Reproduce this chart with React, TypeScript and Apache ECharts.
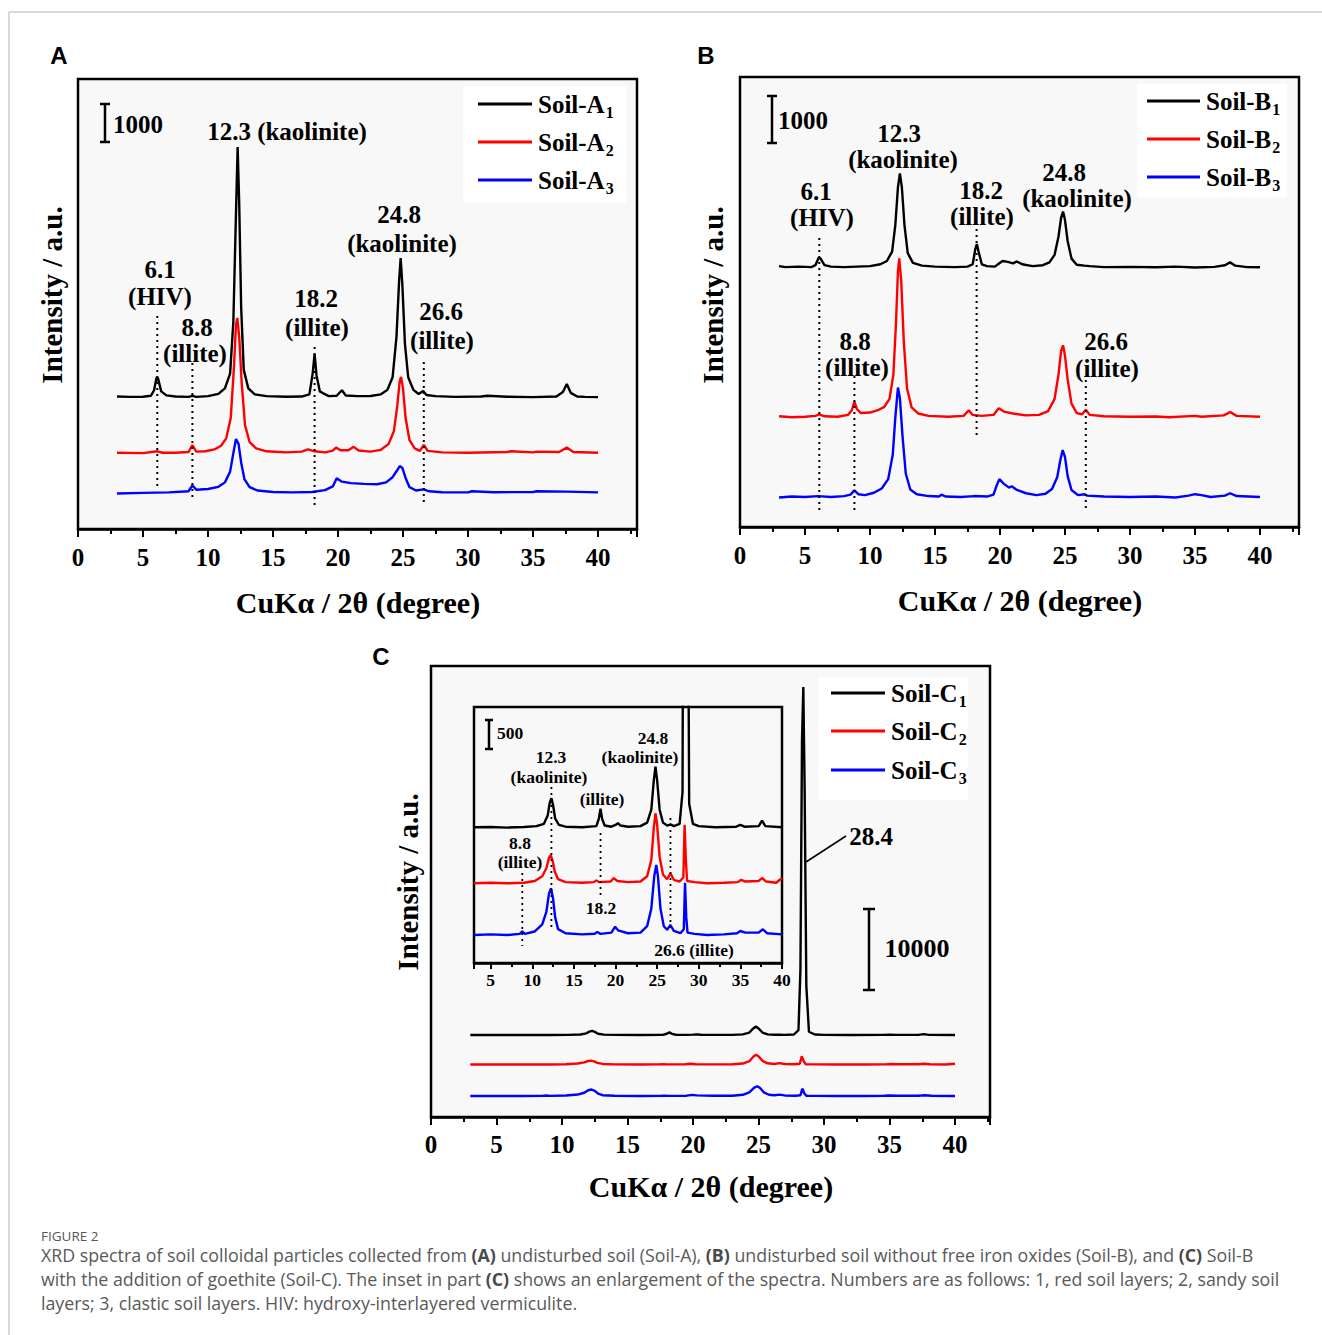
import React, { useEffect, useRef } from 'react';
import * as echarts from 'echarts';

const W = 1322;
const H = 1335;
const SERIF = '"Liberation Serif", "Times New Roman", serif';
const SANS = '"Liberation Sans", Arial, sans-serif';
const CAP = '"Open Sans", Lato, sans-serif';

// ---------- DATA: raw spectra (2θ, intensity above own baseline) ----------
const soilA1 = [[3, 10], [4, 0], [5, 5], [5.6, 30], [5.85, 180], [6.05, 530], [6.15, 510], [6.4, 150], [6.8, 40], [7.5, 10], [8.5, 0], [8.8, 30], [9.1, 0], [10, 20], [10.8, 80], [11.3, 230], [11.7, 630], [11.95, 2030], [12.15, 4930], [12.28, 6750], [12.4, 5230], [12.55, 2430], [12.75, 730], [13.1, 230], [13.6, 70], [14.5, 20], [16, 5], [17.2, 10], [17.8, 70], [18.05, 630], [18.2, 1160], [18.35, 580], [18.6, 150], [18.9, 90], [19.3, 20], [19.9, 30], [20.3, 180], [20.6, 40], [21.5, 20], [22.5, 25], [23.3, 70], [23.8, 190], [24.2, 530], [24.5, 1630], [24.7, 3130], [24.82, 3750], [24.95, 3030], [25.15, 1430], [25.4, 530], [25.8, 190], [26.2, 80], [26.55, 160], [26.8, 50], [27.5, 20], [29, 0], [31, 10], [31.5, 30], [33, 5], [35, -5], [36.8, 10], [37.3, 130], [37.6, 350], [37.9, 110], [38.4, 10], [39, 0], [40, -5]];
const soilA2 = [[3, 5], [5, -5], [6.1, 45], [6.5, 5], [7.5, 5], [8.5, 25], [8.8, 215], [9.1, 35], [9.8, 45], [10.5, 95], [11, 195], [11.4, 395], [11.75, 945], [12.0, 2345], [12.15, 3445], [12.25, 3650], [12.4, 3145], [12.6, 1845], [12.85, 745], [13.2, 295], [13.7, 125], [14.5, 45], [16, 15], [17.2, 35], [17.7, 95], [18.2, 45], [19, 15], [19.6, 65], [19.85, 145], [20.2, 75], [20.8, 75], [21.2, 165], [21.6, 65], [22.5, 35], [23.3, 85], [23.9, 245], [24.3, 595], [24.55, 1245], [24.75, 1945], [24.85, 2055], [25.0, 1745], [25.2, 945], [25.5, 345], [25.9, 125], [26.3, 55], [26.6, 215], [26.9, 55], [28, 15], [30, 5], [33, 25], [33.3, 45], [35, 15], [35.3, 35], [37, 25], [37.6, 145], [38.1, 25], [40, 5]];
const soilA3 = [[3, -25], [5, -10], [7, 5], [8.5, 35], [8.8, 195], [9.1, 75], [10, 95], [10.8, 155], [11.3, 275], [11.7, 565], [11.95, 1065], [12.15, 1445], [12.35, 1315], [12.55, 815], [12.8, 365], [13.2, 145], [13.8, 55], [15, 15], [16.5, 5], [18, 15], [19, 65], [19.6, 165], [19.9, 385], [20.3, 295], [21, 255], [22, 235], [23, 225], [23.7, 275], [24.2, 415], [24.5, 575], [24.75, 715], [24.95, 665], [25.2, 395], [25.5, 145], [26, 55], [26.6, 85], [27, 35], [28, 10], [30, 5], [30.3, 35], [32, 10], [35, 15], [35.3, 35], [37.6, 25], [40, 5]];

const soilB1 = [[3, 20], [3.5, 0], [4.5, 10], [5.5, 0], [5.8, 40], [6.05, 200], [6.2, 180], [6.5, 40], [7, 10], [8, 0], [9, 10], [10, 20], [10.8, 60], [11.3, 130], [11.7, 330], [11.95, 900], [12.15, 1700], [12.3, 1990], [12.45, 1700], [12.65, 900], [12.9, 300], [13.3, 90], [14, 30], [15, 10], [16.5, 0], [17.5, 10], [17.9, 60], [18.1, 380], [18.22, 490], [18.35, 330], [18.6, 60], [19, 20], [19.6, 10], [19.9, 70], [20.2, 130], [20.6, 110], [21.0, 80], [21.3, 120], [21.7, 60], [22.5, 20], [23.3, 40], [23.8, 100], [24.2, 260], [24.5, 650], [24.7, 1050], [24.85, 1180], [25.0, 1000], [25.2, 560], [25.5, 180], [25.9, 50], [26.5, 30], [26.9, 20], [28, 0], [30, 5], [32, -5], [33.5, 10], [35, -10], [36.5, 5], [37.3, 40], [37.7, 100], [38.1, 30], [39, 0], [40, -5]];
const soilB2 = [[3, 10], [4, -10], [5, 0], [5.8, 20], [6.1, 50], [6.5, 10], [7.5, 0], [8.3, 40], [8.6, 140], [8.8, 320], [9.0, 160], [9.3, 80], [10, 90], [10.6, 140], [11.1, 210], [11.5, 380], [11.8, 900], [12.0, 2000], [12.15, 3100], [12.25, 3370], [12.4, 2900], [12.6, 1600], [12.85, 600], [13.2, 200], [13.7, 70], [14.5, 20], [16, 0], [17.2, 20], [17.6, 140], [17.9, 40], [18.6, 20], [19.5, 40], [19.9, 180], [20.3, 110], [21, 70], [22, 30], [23, 40], [23.7, 120], [24.2, 380], [24.5, 900], [24.7, 1400], [24.85, 1520], [25.0, 1300], [25.2, 800], [25.5, 280], [25.9, 80], [26.3, 50], [26.6, 150], [26.9, 40], [28, 10], [30, 0], [32, 5], [33, -10], [35, 20], [35.5, 0], [37.2, 30], [37.7, 100], [38.2, 20], [40, 0]];
const soilB3 = [[3, -10], [4, 10], [5, 0], [6, 20], [7, 0], [8, 20], [8.5, 50], [8.8, 140], [9.1, 60], [9.6, 40], [10.3, 90], [10.9, 180], [11.4, 380], [11.75, 900], [11.95, 1700], [12.15, 2330], [12.3, 2100], [12.5, 1300], [12.75, 500], [13.1, 160], [13.6, 60], [14.5, 20], [15.3, 10], [15.5, 50], [15.8, 10], [17, 0], [18, 20], [19, 10], [19.5, 50], [19.75, 250], [19.95, 380], [20.3, 280], [20.7, 200], [20.9, 230], [21.3, 150], [22, 80], [22.8, 40], [23.5, 70], [24, 170], [24.4, 420], [24.65, 800], [24.82, 1000], [25.0, 850], [25.2, 450], [25.5, 150], [26, 40], [26.5, 60], [26.7, 30], [28, 10], [30, 0], [32, 10], [33.5, -10], [34.5, 30], [35, 60], [35.5, 40], [36.2, 0], [37.3, 30], [37.7, 80], [38.2, 20], [40, 0]];

const soilC1 = [[3, 0], [5, 5], [7, -5], [9, 5], [10.5, 20], [11.4, 60], [11.85, 200], [12.1, 420], [12.3, 495], [12.5, 380], [12.75, 150], [13.2, 40], [14, 10], [16, 0], [17.7, 20], [18.0, 150], [18.2, 316], [18.4, 140], [18.7, 30], [19.5, 10], [20.0, 40], [20.3, 70], [20.6, 30], [21.5, 10], [23, 20], [23.8, 80], [24.3, 300], [24.6, 800], [24.8, 1034], [25.0, 800], [25.3, 300], [25.7, 80], [26.2, 30], [26.6, 50], [27, 20], [27.7, 60], [28.05, 600], [28.2, 8000], [28.32, 36000], [28.42, 42440], [28.52, 30000], [28.65, 6000], [28.85, 400], [29.3, 60], [30, 20], [32, 0], [34.5, 10], [35, 40], [35.5, 10], [37.2, 20], [37.6, 114], [38, 20], [40, 0]];
const soilC2 = [[3, 0], [5, 10], [7, 0], [9, 10], [10.3, 40], [11.2, 120], [11.7, 260], [12.0, 430], [12.2, 483], [12.45, 380], [12.7, 200], [13.1, 70], [14, 20], [16, 10], [17.4, 20], [17.7, 50], [18.0, 20], [19.4, 30], [19.8, 90], [20.2, 40], [21.5, 20], [23, 30], [23.8, 120], [24.3, 400], [24.6, 950], [24.8, 1195], [25.0, 1000], [25.3, 450], [25.7, 150], [26.2, 70], [26.6, 171], [27.0, 60], [27.7, 30], [28.15, 100], [28.3, 1000], [28.45, 400], [28.6, 40], [29.5, 20], [31, 0], [33, 10], [34.7, 20], [35.1, 60], [35.6, 30], [37.2, 40], [37.6, 90], [38.1, 30], [39.3, 10], [40, 90]];
const soilC3 = [[3, 0], [5, 10], [7, 0], [8.5, 20], [8.8, 60], [9.1, 20], [10.3, 60], [11.2, 180], [11.7, 400], [12.0, 700], [12.25, 797], [12.5, 620], [12.75, 300], [13.1, 100], [14, 30], [16, 10], [17.5, 20], [17.8, 50], [18.2, 20], [19.5, 40], [19.95, 141], [20.3, 80], [21.5, 30], [23, 40], [23.8, 150], [24.3, 450], [24.65, 1000], [24.9, 1194], [25.1, 1000], [25.4, 450], [25.8, 150], [26.2, 90], [26.6, 170], [27.0, 70], [27.8, 30], [28.2, 100], [28.35, 892], [28.5, 300], [28.65, 40], [29.5, 20], [31, 0], [33, 10], [34.6, 30], [35.0, 68], [35.6, 40], [37.2, 40], [37.7, 97], [38.2, 30], [40, 10]];

// vertical stacking offsets of the spectra (intensity units)
const offsetsA = [3570, 2055, 985];
const offsetsB = [5530, 2345, 638];
const offsetsC = [10000, 6400, 2560];
const offsetsInset = [2316, 1360, 478];

// dotted guide lines: [2θ, top, bottom]
const guidesA = [[6.1, 5757, 1162], [8.8, 4486, 784], [18.2, 4919, 649], [26.6, 4514, 730]];
const guidesB = [[6.1, 6149, 285], [8.8, 3213, 285], [18.2, 6340, 1915], [26.6, 3128, 362]];
const guidesInset = [[12.3, 3003, 563], [18.2, 2218, 1126], [8.8, 1536, 290], [26.6, 2474, 529]];

const namesA = ['Soil-A1', 'Soil-A2', 'Soil-A3'];
const namesB = ['Soil-B1', 'Soil-B2', 'Soil-B3'];
const namesC = ['Soil-C1', 'Soil-C2', 'Soil-C3'];
const colors = ['#000000', '#ff0000', '#0000ff'];

// axis ranges
const xRangeA = [0, 43];
const xRangeB = [0, 43];
const xRangeC = [0, 42.67];
const xRangeInset = [3, 40];
const yMaxA = 12162;
const yMaxB = 9574;
const yMaxC = 55000;
const yMaxInset = 4369;

function buildOption() {
  const grids = [
    { left: 78, top: 79, width: 559, height: 450 },
    { left: 740, top: 77, width: 559, height: 450 },
    { left: 431, top: 666, width: 559, height: 451 },
    { left: 474, top: 707, width: 308, height: 256 },
  ].map((g) => ({ ...g, show: true, backgroundColor: '#f8f8f8', borderColor: '#000', borderWidth: 2.5, containLabel: false }));

  const xAxis = (gridIndex: number, range: number[], fontSize: number, margin: number, tickLen: number, minorLen: number, useInterval: boolean) => ({
    type: 'value',
    gridIndex,
    min: range[0],
    max: range[1],
    ...(useInterval ? { interval: 5 } : { splitNumber: 7 }),
    axisLine: { show: true, onZero: false, lineStyle: { color: '#000', width: 2.5 } },
    axisTick: { show: true, inside: false, length: tickLen, lineStyle: { color: '#000', width: 2 } },
    minorTick: { show: true, splitNumber: 2, length: minorLen, lineStyle: { color: '#000', width: 2 } },
    axisLabel: {
      margin,
      fontSize,
      fontWeight: 'bold',
      fontFamily: SERIF,
      color: '#000',
      formatter: (v: number) => (Math.abs(v % 5) < 1e-6 ? String(v) : ''),
    },
    splitLine: { show: false },
    minorSplitLine: { show: false },
  });

  const yAxis = (gridIndex: number, max: number) => ({
    type: 'value', gridIndex, min: 0, max, show: false, splitLine: { show: false },
  });

  const series: any[] = [];
  const addSpectra = (axis: number, names: string[], raws: number[][][], offs: number[]) => {
    raws.forEach((raw, i) => {
      series.push({
        type: 'line',
        name: names[i] + (axis === 3 ? ' (inset)' : ''),
        xAxisIndex: axis,
        yAxisIndex: axis,
        data: raw.map(([x, y]) => [x, y + offs[i]]),
        symbol: 'none',
        clip: true,
        silent: true,
        z: 3,
        lineStyle: { color: colors[i], width: 2.4 },
      });
    });
  };
  addSpectra(0, namesA, [soilA1, soilA2, soilA3], offsetsA);
  addSpectra(1, namesB, [soilB1, soilB2, soilB3], offsetsB);
  addSpectra(2, namesC, [soilC1, soilC2, soilC3], offsetsC);
  addSpectra(3, namesC, [soilC1, soilC2, soilC3], offsetsInset);

  const addGuides = (axis: number, guides: number[][], width: number) => {
    guides.forEach(([x, top, bottom]) => {
      series.push({
        type: 'line',
        xAxisIndex: axis,
        yAxisIndex: axis,
        data: [[x, top], [x, bottom]],
        symbol: 'none',
        silent: true,
        z: 4,
        lineStyle: { color: '#000', width, type: [2, 4] },
      });
    });
  };
  addGuides(0, guidesA, 2);
  addGuides(1, guidesB, 2);
  addGuides(3, guidesInset, 1.8);

  // ---------- graphic annotations ----------
  const g: any[] = [];
  const txt = (x: number, y: number, text: string, size: number, extra: any = {}) =>
    g.push({
      type: 'text', x, y, z: 100, silent: true,
      style: { text, fontSize: size, fontWeight: 'bold', fontFamily: SERIF, fill: '#000', align: 'center', verticalAlign: 'middle', ...extra },
    });
  const seg = (x1: number, y1: number, x2: number, y2: number, w = 2, color = '#000') =>
    g.push({ type: 'line', z: 100, silent: true, shape: { x1, y1, x2, y2 }, style: { stroke: color, lineWidth: w } });
  const scaleBar = (x: number, y1: number, y2: number, cap: number) => {
    seg(x, y1, x, y2, 2.5);
    seg(x - cap / 2, y1, x + cap / 2, y1, 2.5);
    seg(x - cap / 2, y2, x + cap / 2, y2, 2.5);
  };
  const legend = (x: number, y: number, w: number, h: number, lx1: number, lx2: number, tx: number, ys: number[], prefix: string, size: number) => {
    g.push({ type: 'rect', z: 90, silent: true, shape: { x, y, width: w, height: h }, style: { fill: '#ffffff' } });
    ys.forEach((yy, i) => {
      seg(lx1, yy, lx2, yy, 3, colors[i]);
      txt(tx, yy, `${prefix}{s|${i + 1}}`, size, {
        align: 'left',
        rich: { s: { fontSize: 16, fontWeight: 'bold', fontFamily: SERIF, fill: '#000', padding: [16, 0, 0, 1] } },
      });
    });
  };

  // frame of the figure
  seg(9, 12, W, 12, 1.5, '#cccccc');
  seg(9, 12, 9, H, 1.5, '#cccccc');

  // panel letters
  txt(59, 55, 'A', 24, { fontFamily: SANS });
  txt(706, 55, 'B', 24, { fontFamily: SANS });
  txt(381, 656, 'C', 24, { fontFamily: SANS });

  // axis titles
  const xTitle = 'CuKα / 2θ (degree)';
  const yTitle = 'Intensity / a.u.';
  txt(358, 602, xTitle, 30);
  txt(1020, 600, xTitle, 30);
  txt(711, 1186, xTitle, 30);
  const yT = (x: number, y: number) =>
    g.push({ type: 'text', x, y, rotation: Math.PI / 2, z: 100, silent: true, style: { text: yTitle, fontSize: 29, fontWeight: 'bold', fontFamily: SERIF, fill: '#000', align: 'center', verticalAlign: 'middle' } });
  yT(52, 295);
  yT(713, 295);
  yT(408, 882);

  const F = 25;
  // panel A annotations
  scaleBar(105, 104, 142, 10);
  txt(113, 124, '1000', F, { align: 'left' });
  txt(287, 131, '12.3 (kaolinite)', F);
  txt(160, 269, '6.1', F);
  txt(160, 296, '(HIV)', F);
  txt(197, 327, '8.8', F);
  txt(195, 353, '(illite)', F);
  txt(316, 298, '18.2', F);
  txt(317, 327, '(illite)', F);
  txt(399, 214, '24.8', F);
  txt(402, 243, '(kaolinite)', F);
  txt(441, 311, '26.6', F);
  txt(442, 340, '(illite)', F);
  legend(463, 86, 163, 117, 478, 532, 538, [104, 142, 180], 'Soil-A', F);

  // panel B annotations
  scaleBar(772, 96, 143, 10);
  txt(778, 120, '1000', F, { align: 'left' });
  txt(899, 133, '12.3', F);
  txt(903, 159, '(kaolinite)', F);
  txt(816, 191, '6.1', F);
  txt(822, 217, '(HIV)', F);
  txt(981, 190, '18.2', F);
  txt(982, 216, '(illite)', F);
  txt(1064, 172, '24.8', F);
  txt(1077, 198, '(kaolinite)', F);
  txt(855, 341, '8.8', F);
  txt(857, 367, '(illite)', F);
  txt(1106, 341, '26.6', F);
  txt(1107, 368, '(illite)', F);
  legend(1137, 84, 150, 113, 1147, 1200, 1206, [101, 139, 177], 'Soil-B', F);

  // panel C annotations
  scaleBar(869, 909, 990, 12);
  txt(917, 948, '10000', 26);
  seg(806, 862, 846, 836, 1.5);
  txt(871, 836, '28.4', 25);
  legend(818, 677, 150, 123, 831, 885, 891, [693, 731, 770], 'Soil-C', F);

  // inset annotations
  const f = 17.5;
  scaleBar(489, 720, 749, 8);
  txt(497, 733, '500', f, { align: 'left' });
  txt(551, 757, '12.3', f);
  txt(549, 777, '(kaolinite)', f);
  txt(653, 738, '24.8', f);
  txt(640, 757, '(kaolinite)', f);
  txt(602, 799, '(illite)', f);
  txt(520, 843, '8.8', f);
  txt(520, 862, '(illite)', f);
  txt(601, 908, '18.2', f);
  txt(694, 950, '26.6 (illite)', f);

  // caption
  const capStyle = (text: string) => ({
    text, fontSize: 17.8, fontFamily: CAP, fill: '#595959', align: 'left', verticalAlign: 'middle',
    rich: { b: { fontSize: 17.8, fontFamily: CAP, fontWeight: 'bold', fill: '#4a4a4a' } },
  });
  g.push({ type: 'text', x: 41, y: 1236, z: 100, silent: true, style: { text: 'FIGURE 2', fontSize: 13.5, fontFamily: CAP, fill: '#555555', align: 'left', verticalAlign: 'middle' } });
  g.push({ type: 'text', x: 41, y: 1255, z: 100, silent: true, style: capStyle('XRD spectra of soil colloidal particles collected from {b|(A)} undisturbed soil (Soil-A), {b|(B)} undisturbed soil without free iron oxides (Soil-B), and {b|(C)} Soil-B') });
  g.push({ type: 'text', x: 41, y: 1279, z: 100, silent: true, style: capStyle('with the addition of goethite (Soil-C). The inset in part {b|(C)} shows an enlargement of the spectra. Numbers are as follows: 1, red soil layers; 2, sandy soil') });
  g.push({ type: 'text', x: 41, y: 1303, z: 100, silent: true, style: capStyle('layers; 3, clastic soil layers. HIV: hydroxy-interlayered vermiculite.') });

  return {
    animation: false,
    backgroundColor: '#ffffff',
    grid: grids,
    xAxis: [
      xAxis(0, xRangeA, 25, 16, 8, 5, true),
      xAxis(1, xRangeB, 25, 16, 8, 5, true),
      xAxis(2, xRangeC, 25, 15, 8, 5, true),
      xAxis(3, xRangeInset, 17.5, 8, 6, 4, false),
    ],
    yAxis: [yAxis(0, yMaxA), yAxis(1, yMaxB), yAxis(2, yMaxC), yAxis(3, yMaxInset)],
    series,
    graphic: { elements: g },
  };
}

export default function App() {
  const ref = useRef<HTMLDivElement>(null);
  useEffect(() => {
    if (!ref.current) return;
    const chart = echarts.init(ref.current, undefined, { renderer: 'svg' });
    chart.setOption(buildOption() as any);
    return () => chart.dispose();
  }, []);
  return <div ref={ref} style={{ position: 'absolute', left: 0, top: 0, width: W, height: H }} />;
}
